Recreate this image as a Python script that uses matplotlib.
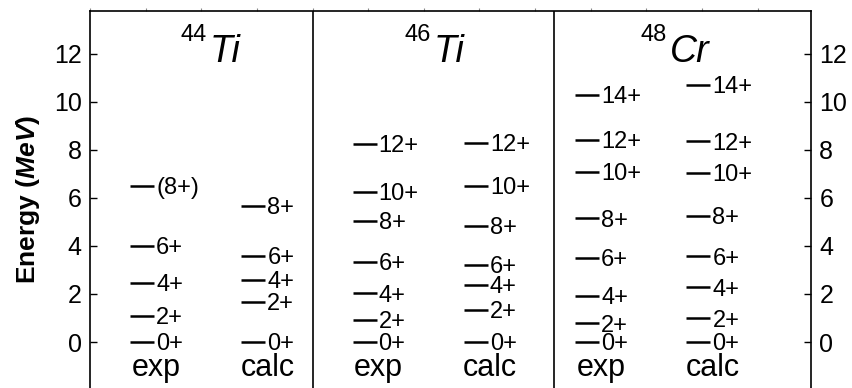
import numpy as np
import matplotlib
matplotlib.use("Agg")
import matplotlib.pyplot as plt

plt.rcParams['font.family'] = ['Liberation Sans', 'DejaVu Sans']
plt.rcParams['mathtext.fontset'] = 'custom'
plt.rcParams['mathtext.rm'] = 'Liberation Sans'
plt.rcParams['mathtext.it'] = 'Liberation Sans:italic'
plt.rcParams['mathtext.bf'] = 'Liberation Sans:bold'
plt.rcParams['mathtext.bfit'] = 'Liberation Sans:italic:bold'

# level energies (MeV)
ti44_exp = [0.0, 1.08, 2.45, 4.01, 6.51]
ti44_exp_spin = ['0+', '2+', '4+', '6+', '(8+)']
ti44_calc = [0.0, 1.68, 2.58, 3.58, 5.67]
ti44_calc_spin = ['0+', '2+', '4+', '6+', '8+']

ti46_exp = [0.0, 0.92, 2.03, 3.35, 5.05, 6.26, 8.24]
ti46_calc = [0.0, 1.33, 2.38, 3.21, 4.83, 6.50, 8.28]
ti46_spin = ['0+', '2+', '4+', '6+', '8+', '10+', '12+']

cr48_exp = [0.0, 0.78, 1.92, 3.49, 5.15, 7.07, 8.42, 10.29]
cr48_calc = [0.0, 0.99, 2.28, 3.56, 5.25, 7.03, 8.35, 10.71]
cr48_spin = ['0+', '2+', '4+', '6+', '8+', '10+', '12+', '14+']

nuclei = [('44', 'Ti'), ('46', 'Ti'), ('48', 'Cr')]
col_labels = ['exp', 'calc']

columns = [
    (ti44_exp, ti44_exp_spin), (ti44_calc, ti44_calc_spin),
    (ti46_exp, ti46_spin), (ti46_calc, ti46_spin),
    (cr48_exp, cr48_spin), (cr48_calc, cr48_spin),
]

fig = plt.figure(figsize=(8.52, 3.88), dpi=100)
ax = fig.add_axes([90 / 852, 0.0, 721 / 852, 1 - 10.7 / 388])

ax.set_xlim(0, 12.96)
ax.set_ylim(-1.91, 13.78)

line_w = 0.43
for i, (levels, spins) in enumerate(columns):
    x0 = 0.72 + 2 * i
    ax.hlines(levels, x0, x0 + line_w, colors='black', linewidth=1.8)
    for e, s in zip(levels, spins):
        ax.annotate(s, (x0 + line_w, e), xytext=(1.5, -6.0),
                    textcoords='offset points', ha='left', va='baseline',
                    fontsize=17)
    ax.text(x0 + 0.47, -1.42, col_labels[i % 2], ha='center',
            va='baseline', fontsize=22)

# nucleus names
title_x = [2.10, 6.13, 10.37]
for (mass, sym), tx in zip(nuclei, title_x):
    ax.text(tx, 12.52, mass, ha='right', va='baseline', fontsize=17)
    ax.text(tx + 0.05, 11.63, sym, ha='left', va='baseline', fontsize=27,
            style='italic')

# panel dividers
for xd in [4.0, 8.34]:
    ax.axvline(xd, color='black', linewidth=1.2)

ax.spines['bottom'].set_visible(False)
for sp in ['left', 'right', 'top']:
    ax.spines[sp].set_linewidth(1.2)

ax.set_yticks(np.arange(0, 13, 2))
ax.tick_params(axis='y', which='both', direction='in', length=5, width=1,
               left=True, right=True, labelleft=True, labelright=True,
               labelsize=18, pad=6)
ax.set_xticks(np.arange(0, 13, 1))
ax.tick_params(axis='x', direction='out', length=2.5, width=0.8,
               top=True, bottom=False, labeltop=False, labelbottom=False,
               colors='#888888')

fig.text(28 / 852, 1 - 199 / 388, r'Energy ($\mathbfit{MeV}$)', rotation=90,
         ha='center', va='center', fontsize=19, fontweight='bold')

fig.savefig('out.png', dpi=100)
